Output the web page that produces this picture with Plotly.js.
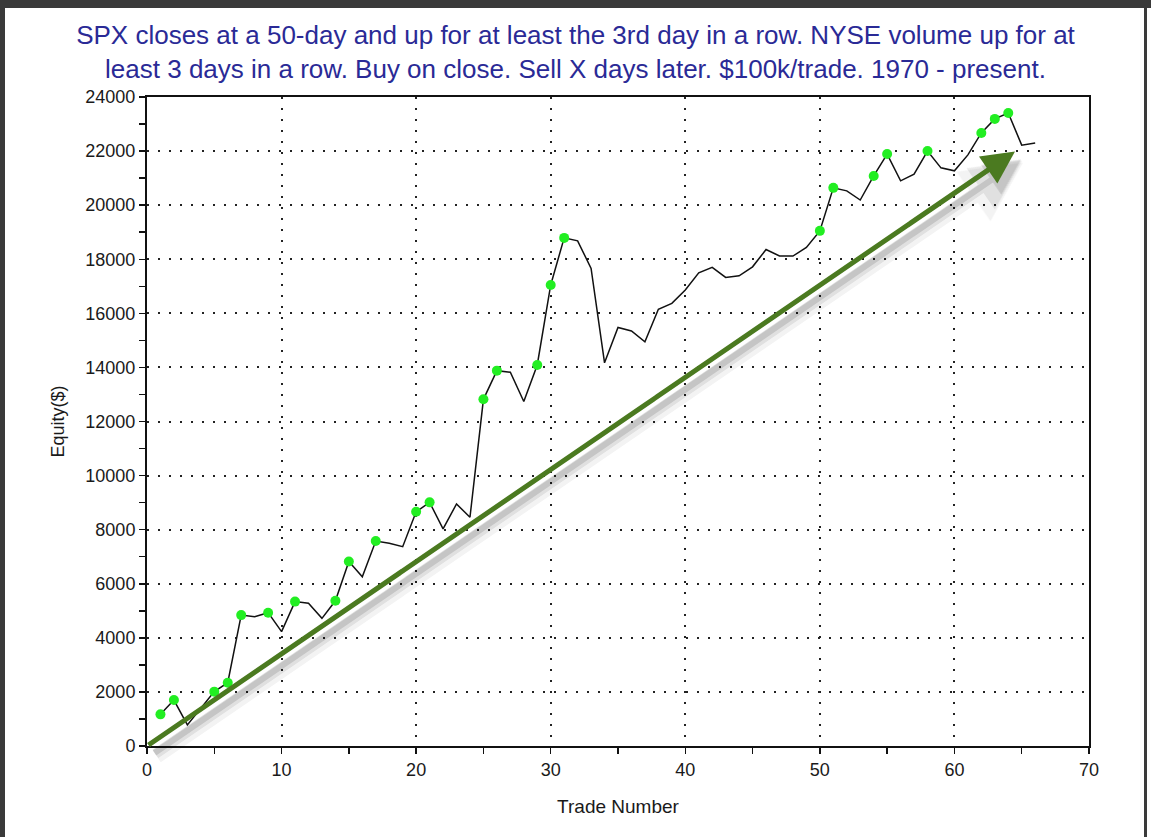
<!DOCTYPE html>
<html>
<head>
<meta charset="utf-8">
<script src="https://cdn.plot.ly/plotly-3.0.1.min.js"></script>
<style>
  html, body { margin: 0; padding: 0; background: #fff; }
  #wrap { position: relative; width: 1151px; height: 837px; overflow: hidden; }
  #chart { position: absolute; left: 0; top: 0; width: 1151px; height: 837px; }
  .bd { position: absolute; background: #3a3a3a; pointer-events: none; }
</style>
</head>
<body>
<div id="wrap">
  <div id="chart"></div>
  <div class="bd" style="left:0;top:0;width:1151px;height:8px;"></div>
  <div class="bd" style="left:0;top:0;width:5px;height:837px;"></div>
  <div class="bd" style="left:1144px;top:0;width:3px;height:837px;"></div>
</div>
<script>
// ---- data ----
const tradeNumbers = [1,2,3,4,5,6,7,8,9,10,11,12,13,14,15,16,17,18,19,20,21,22,23,24,25,26,27,28,29,30,31,32,33,34,35,36,37,38,39,40,41,42,43,44,45,46,47,48,49,50,51,52,53,54,55,56,57,58,59,60,61,62,63,64,65,66];
const equity = [1170,1700,780,1390,2010,2340,4840,4780,4930,4230,
                5340,5280,4720,5370,6820,6260,7580,7500,7370,8660,
                9010,8030,8950,8460,12820,13880,13820,12740,14090,17050,
                18790,18680,17660,14170,15480,15350,14950,16150,16370,16860,
                17500,17700,17330,17390,17720,18360,18120,18120,18440,19050,
                20640,20530,20190,21080,21890,20900,21150,22000,21380,21270,
                21860,22670,23190,23410,22220,22300];
// trades that set a new equity high (green dots)
const newHighTrades = [1,2,5,6,7,9,11,14,15,17,20,21,25,26,29,30,31,50,51,54,55,58,62,63,64];
const xTickValues = [0,10,20,30,40,50,60,70];
const yTickValues = [0,2000,4000,6000,8000,10000,12000,14000,16000,18000,20000,22000,24000];

const titleText = 'SPX closes at a 50-day and up for at least the 3rd day in a row. NYSE volume up for at<br>least 3 days in a row. Buy on close. Sell X days later. $100k/trade. 1970 - present.';

const highY = newHighTrades.map(t => equity[tradeNumbers.indexOf(t)]);

const lineTrace = {
  x: tradeNumbers, y: equity, type: 'scatter', mode: 'lines',
  line: { color: '#111', width: 1.5 }, hoverinfo: 'x+y', showlegend: false
};
const dotTrace = {
  x: newHighTrades, y: highY, type: 'scatter', mode: 'markers',
  marker: { color: '#22ee22', size: 10, line: { width: 0 } }, showlegend: false
};

const arrowTip = { x: 64.5, y: 21980 };
const arrowBase = { x: 0, y: 0 };
function arrowAnn(color, width, xs, ys, size) {
  return {
    x: arrowTip.x, y: arrowTip.y, ax: arrowBase.x, ay: arrowBase.y,
    xref: 'x', yref: 'y', axref: 'x', ayref: 'y', text: '',
    showarrow: true, arrowhead: 2, arrowsize: size, arrowwidth: width,
    arrowcolor: color, xshift: xs, yshift: ys
  };
}

const fontFam = 'Liberation Sans, Arial, sans-serif';
const layout = {
  width: 1151, height: 837,
  margin: { l: 147, r: 62, t: 97, b: 91 },
  paper_bgcolor: '#fff', plot_bgcolor: '#fff',
  font: { family: fontFam, color: '#1a1a1a' },
  title: {
    text: titleText, x: 0.5, xref: 'container', xanchor: 'center',
    y: 1 - 44 / 837, yref: 'container', yanchor: 'middle',
    font: { family: fontFam, size: 26, color: '#2a2a96' }
  },
  xaxis: {
    range: [0, 70], tickvals: xTickValues, ticktext: xTickValues.map(String),
    ticks: 'outside', ticklen: 6, tickwidth: 1.5, tickcolor: '#111',
    minor: { dtick: 5, tick0: 0, ticks: 'outside', ticklen: 6, tickwidth: 1.5, tickcolor: '#111', showgrid: false },
    showline: true, linecolor: '#111', linewidth: 2, mirror: true,
    showgrid: true, gridcolor: '#222', gridwidth: 2, griddash: '2px,9px',
    zeroline: false, tickfont: { size: 18, color: '#1a1a1a' },
    title: { text: 'Trade Number', font: { size: 19, color: '#1a1a1a' }, standoff: 21 }
  },
  yaxis: {
    range: [0, 24000], tickvals: yTickValues, ticktext: yTickValues.map(String),
    ticks: 'outside', ticklen: 6, tickwidth: 1.5, tickcolor: '#111',
    minor: { dtick: 1000, tick0: 0, ticks: 'outside', ticklen: 6, tickwidth: 1.5, tickcolor: '#111', showgrid: false },
    showline: true, linecolor: '#111', linewidth: 2, mirror: true,
    showgrid: true, gridcolor: '#222', gridwidth: 2, griddash: '2px,9px',
    zeroline: false, tickfont: { size: 18, color: '#1a1a1a' },
    title: { text: 'Equity($)', font: { size: 18, color: '#1a1a1a' }, standoff: 16 }
  },
  annotations: [
    arrowAnn('rgba(0,0,0,0.05)', 15, 8, -11, 0.8),
    arrowAnn('rgba(0,0,0,0.08)', 10, 7, -9, 1.0),
    arrowAnn('rgba(0,0,0,0.12)', 6, 6, -8, 1.2),
    arrowAnn('#4b7a20', 5, 0, 0, 1.3)
  ]
};

Plotly.newPlot('chart', [lineTrace, dotTrace], layout, { staticPlot: true, displayModeBar: false });
</script>
</body>
</html>
